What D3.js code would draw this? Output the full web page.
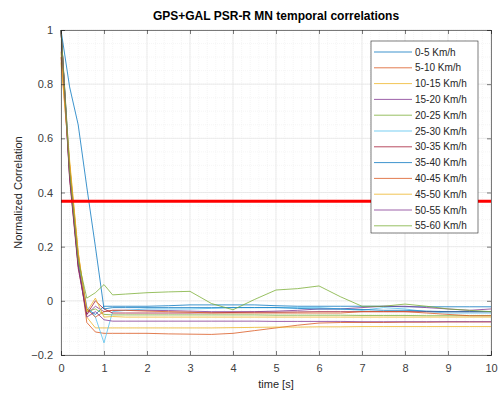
<!DOCTYPE html>
<html><head><meta charset="utf-8">
<script src="https://cdn.jsdelivr.net/npm/d3@7"></script>
<style>body{margin:0;background:#fff}svg{display:block}text{font-family:"Liberation Sans",Arial,sans-serif}</style>
</head><body><svg id="c" width="502" height="396"></svg>
<script>
const title = "GPS+GAL PSR-R MN temporal correlations";
const xLabel = "time [s]";
const yLabel = "Normalized Correlation";
const times = [0,0.2,0.4,0.6,0.8,1,1.2,1.5,2,2.5,3,3.5,4,4.5,5,5.5,6,6.5,7,7.5,8,8.5,9,9.5,10];
const seriesNames = ["0-5 Km/h","5-10 Km/h","10-15 Km/h","15-20 Km/h","20-25 Km/h","25-30 Km/h","30-35 Km/h","35-40 Km/h","40-45 Km/h","45-50 Km/h","50-55 Km/h","55-60 Km/h"];
const seriesColors = ["#0072BD","#D95319","#EDB120","#7E2F8E","#77AC30","#4DBEEE","#A2142F","#0072BD","#D95319","#EDB120","#7E2F8E","#77AC30"];
const s0  = [1,0.48,0.14,-0.03,-0.05,-0.02,-0.02,-0.02,-0.02,-0.018,-0.015,-0.015,-0.015,-0.015,-0.018,-0.02,-0.02,-0.02,-0.02,-0.02,-0.022,-0.022,-0.022,-0.022,-0.022];
const s1  = [1,0.50,0.16,-0.08,-0.115,-0.12,-0.12,-0.12,-0.12,-0.122,-0.123,-0.124,-0.12,-0.11,-0.10,-0.09,-0.082,-0.08,-0.08,-0.08,-0.079,-0.079,-0.078,-0.078,-0.078];
const s2  = [0.92,0.52,0.18,-0.06,-0.10,-0.10,-0.10,-0.10,-0.10,-0.10,-0.10,-0.10,-0.099,-0.098,-0.097,-0.097,-0.096,-0.096,-0.095,-0.095,-0.095,-0.095,-0.095,-0.095,-0.095];
const s3  = [1,0.46,0.13,-0.05,-0.02,-0.04,-0.035,-0.035,-0.035,-0.036,-0.038,-0.04,-0.04,-0.04,-0.038,-0.035,-0.03,-0.03,-0.025,-0.02,-0.02,-0.025,-0.03,-0.035,-0.03];
const s4  = [1,0.47,0.14,-0.04,-0.03,-0.05,-0.052,-0.052,-0.052,-0.052,-0.052,-0.052,-0.052,-0.052,-0.053,-0.053,-0.053,-0.053,-0.054,-0.054,-0.054,-0.055,-0.055,-0.055,-0.055];
const s5  = [1,0.49,0.15,-0.02,-0.06,-0.155,-0.04,-0.035,-0.03,-0.03,-0.03,-0.028,-0.025,-0.025,-0.025,-0.025,-0.025,-0.03,-0.035,-0.025,-0.03,-0.04,-0.045,-0.045,-0.045];
const s6  = [1,0.45,0.12,-0.05,0.0,-0.03,-0.045,-0.045,-0.045,-0.045,-0.045,-0.044,-0.043,-0.042,-0.042,-0.041,-0.04,-0.04,-0.04,-0.04,-0.04,-0.04,-0.04,-0.04,-0.04];
const s7  = [1,0.79,0.65,0.42,0.20,-0.03,-0.025,-0.025,-0.025,-0.025,-0.025,-0.025,-0.025,-0.025,-0.025,-0.028,-0.03,-0.03,-0.032,-0.035,-0.035,-0.038,-0.04,-0.04,-0.04];
const s8  = [0.90,0.50,0.17,-0.03,-0.06,-0.04,-0.035,-0.035,-0.038,-0.04,-0.042,-0.045,-0.045,-0.045,-0.045,-0.045,-0.045,-0.045,-0.04,-0.04,-0.04,-0.045,-0.05,-0.055,-0.055];
const s9  = [0.88,0.51,0.18,-0.04,0.01,-0.06,-0.058,-0.06,-0.06,-0.06,-0.06,-0.06,-0.06,-0.06,-0.06,-0.06,-0.06,-0.06,-0.06,-0.06,-0.06,-0.06,-0.06,-0.06,-0.06];
const s10 = [1,0.46,0.13,-0.06,-0.04,-0.07,-0.075,-0.075,-0.075,-0.075,-0.075,-0.075,-0.075,-0.075,-0.076,-0.076,-0.076,-0.076,-0.077,-0.077,-0.077,-0.077,-0.077,-0.077,-0.077];
const s11 = [1,0.48,0.15,0.01,0.03,0.06,0.022,0.025,0.03,0.033,0.035,-0.01,-0.033,0.005,0.04,0.045,0.055,0.015,-0.02,-0.02,-0.012,-0.02,-0.03,-0.035,-0.04];
const seriesValues = [s0,s1,s2,s3,s4,s5,s6,s7,s8,s9,s10,s11];
const xTicks = [0,1,2,3,4,5,6,7,8,9,10];
const yTicks = [-0.2,0,0.2,0.4,0.6,0.8,1];
const threshold = 1/Math.E;

const svg = d3.select("#c");
const L=61,R=491,T=30,B=355;
const x = d3.scaleLinear().domain([0,10]).range([L,R]);
const y = d3.scaleLinear().domain([-0.2,1]).range([B,T]);

// minor grid
const gx = svg.append("g");
d3.range(0,10.001,0.2).forEach(v=>{ gx.append("line").attr("x1",x(v)).attr("x2",x(v)).attr("y1",T).attr("y2",B).attr("stroke","#f0f0f0").attr("stroke-width",0.6).attr("stroke-dasharray","1,1"); });
d3.range(-0.2,1.001,0.05).forEach(v=>{ gx.append("line").attr("x1",L).attr("x2",R).attr("y1",y(v)).attr("y2",y(v)).attr("stroke","#f0f0f0").attr("stroke-width",0.6).attr("stroke-dasharray","1,1"); });
// major grid
xTicks.forEach(v=>gx.append("line").attr("x1",x(v)).attr("x2",x(v)).attr("y1",T).attr("y2",B).attr("stroke","#e4e4e4").attr("stroke-width",0.7));
yTicks.forEach(v=>gx.append("line").attr("x1",L).attr("x2",R).attr("y1",y(v)).attr("y2",y(v)).attr("stroke","#e4e4e4").attr("stroke-width",0.7));

// lines
const line = d3.line().x((d,i)=>x(times[i])).y(d=>y(d));
const lg = svg.append("g");
seriesValues.forEach((vals,k)=>{
  lg.append("path").datum(vals).attr("d",line).attr("fill","none")
    .attr("stroke",seriesColors[k]).attr("stroke-width",0.9).attr("stroke-opacity",0.85);
});
// threshold
svg.append("line").attr("x1",x(0)).attr("x2",x(10)).attr("y1",y(threshold)).attr("y2",y(threshold))
  .attr("stroke","#ff0000").attr("stroke-width",3);

// axes
const axB = d3.axisBottom(x).tickValues(xTicks).tickSize(-4).tickPadding(9).tickFormat(d3.format("d"));
const axL = d3.axisLeft(y).tickValues(yTicks).tickSize(-4).tickPadding(8).tickFormat(d=>d===0?"0":d3.format("")(+d.toFixed(1)));
const axT = d3.axisTop(x).tickValues(xTicks).tickSize(-4).tickFormat("");
const axR = d3.axisRight(y).tickValues(yTicks).tickSize(-4).tickFormat("");
function style(g){ g.select(".domain").attr("stroke","#262626").attr("stroke-width",0.6); g.selectAll(".tick line").attr("stroke","#262626").attr("stroke-width",0.6); g.selectAll("text").attr("fill","#404040").attr("font-size",11); }
svg.append("g").attr("transform",`translate(0,${B})`).call(axB).call(style);
svg.append("g").attr("transform",`translate(${L},0)`).call(axL).call(style);
svg.append("g").attr("transform",`translate(0,${T})`).call(axT).call(style);
svg.append("g").attr("transform",`translate(${R},0)`).call(axR).call(style);

// labels
svg.append("text").attr("x",(L+R)/2).attr("y",20).attr("text-anchor","middle").attr("font-weight","bold").attr("font-size",12).attr("fill","#000").text(title);
svg.append("text").attr("x",(L+R)/2).attr("y",388).attr("text-anchor","middle").attr("font-size",11).attr("fill","#262626").text(xLabel);
svg.append("text").attr("transform",`translate(22,${(T+B)/2}) rotate(-90)`).attr("text-anchor","middle").attr("font-size",11).attr("fill","#262626").text(yLabel);

// legend
const lgX=371,lgY=41,lgW=107,lgH=192;
svg.append("rect").attr("x",lgX).attr("y",lgY).attr("width",lgW).attr("height",lgH).attr("fill","#fff").attr("stroke","#262626").attr("stroke-width",0.6);
seriesNames.forEach((n,k)=>{
  const yy = lgY+11+k*15.8;
  svg.append("line").attr("x1",lgX+3).attr("x2",lgX+41).attr("y1",yy).attr("y2",yy).attr("stroke",seriesColors[k]).attr("stroke-width",0.9).attr("stroke-opacity",0.85);
  svg.append("text").attr("x",lgX+44).attr("y",yy+3.5).attr("font-size",10).attr("fill","#262626").text(n);
});
</script></body></html>
